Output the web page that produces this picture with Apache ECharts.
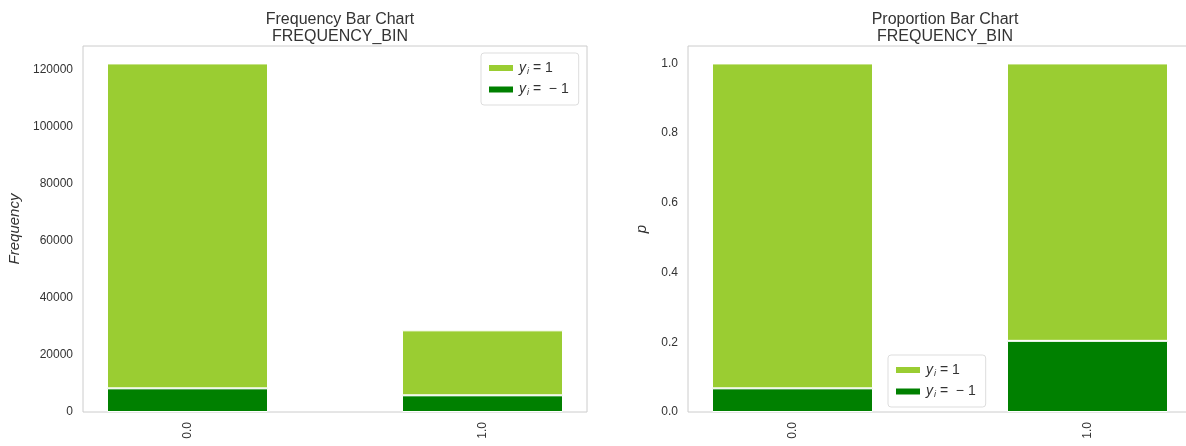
<!DOCTYPE html>
<html>
<head>
<meta charset="utf-8">
<script src="https://cdn.jsdelivr.net/npm/echarts@6/dist/echarts.min.js"></script>
<style>html,body{margin:0;padding:0;background:#fff;overflow:hidden;width:1186px;height:446px}#c{width:1240px;height:446px}</style>
</head>
<body>
<div id="c"></div>
<script>
// ---- data ----
const categories = ['0.0', '1.0'];
const countPos = [114050, 22810];   // y_i = 1
const countNeg = [8300, 5850];      // y_i = -1
const seriesNames = ['y=1', 'y=-1'];
const titlesLeft = 'Frequency Bar Chart\nFREQUENCY_BIN';
const titlesRight = 'Proportion Bar Chart\nFREQUENCY_BIN';

const totals = countPos.map((v, i) => v + countNeg[i]);
const propPos = countPos.map((v, i) => v / totals[i]);
const propNeg = countNeg.map((v, i) => v / totals[i]);

const LIGHT = '#9ACD32', DARK = '#008000';
const TXT = '#333333', EDGE = '#cccccc';
const FONT = '"Liberation Sans", Arial, sans-serif';

const chart = echarts.init(document.getElementById('c'), null, {renderer: 'canvas'});

const TOP = 46, H = 366;
const leftMax = Math.max(...totals) * 1.05;

function legendDef(left, top) {
  return {
    orient: 'vertical', left: left, top: top, data: seriesNames,
    icon: 'rect', itemWidth: 26, itemHeight: 8, itemGap: 7,
    padding: [8, 10, 8, 6], borderColor: '#dddddd', borderWidth: 1, borderRadius: 3,
    backgroundColor: '#fff', selectedMode: false,
    formatter: n => n === 'y=1' ? '{y|y}{s|i}{t| = 1}' : '{y|y}{s|i}{t| =  − 1}',
    textStyle: {
      color: TXT, fontFamily: FONT, fontSize: 13,
      rich: {
        y: {fontStyle: 'italic', fontSize: 14, color: TXT, fontFamily: FONT},
        s: {fontStyle: 'italic', fontSize: 9, color: TXT, fontFamily: FONT, verticalAlign: 'bottom', padding: [6, 0, 0, 1]},
        t: {fontSize: 14, color: TXT, fontFamily: FONT}
      }
    }
  };
}
function hiddenX(gi) {
  return {type: 'value', gridIndex: gi, show: false, min: 0, max: 1};
}
function catX(gi) {
  return {
    type: 'category', gridIndex: gi, data: categories, boundaryGap: true,
    axisTick: {show: false}, axisLine: {show: false}, splitLine: {show: false},
    axisLabel: {rotate: 90, margin: 10, fontSize: 12, color: TXT, fontFamily: FONT}
  };
}
function hiddenY(gi, max) {
  return {type: 'value', gridIndex: gi, show: false, min: 0, max: max, splitLine: {show: false}};
}
function bar(name, stack, axis, data, color) {
  return {type: 'bar', name: name, stack: stack, xAxisIndex: axis, yAxisIndex: axis, data: data,
    barWidth: 161, itemStyle: {color: color, borderColor: '#ffffff', borderWidth: 1},
    emphasis: {disabled: true}};
}

chart.setOption({
  animation: false,
  textStyle: {fontFamily: FONT},
  title: [
    {text: titlesLeft, left: 335, top: 6, textAlign: 'center',
      textStyle: {fontSize: 16, fontWeight: 'normal', color: TXT, lineHeight: 17, fontFamily: FONT}},
    {text: titlesRight, left: 940, top: 6, textAlign: 'center',
      textStyle: {fontSize: 16, fontWeight: 'normal', color: TXT, lineHeight: 17, fontFamily: FONT}}
  ],
  grid: [
    {left: 83, top: TOP, width: 504, height: H, show: true, borderColor: EDGE, borderWidth: 1, backgroundColor: 'transparent'},
    {left: 40, top: TOP, width: 590, height: H},
    {left: 688, top: TOP, width: 504, height: H, show: true, borderColor: EDGE, borderWidth: 1, backgroundColor: 'transparent'},
    {left: 645, top: TOP, width: 590, height: H}
  ],
  xAxis: [hiddenX(0), catX(1), hiddenX(2), catX(3)],
  yAxis: [
    {type: 'value', gridIndex: 0, min: 0, max: leftMax, interval: 20000,
      splitLine: {show: false}, axisTick: {show: false}, axisLine: {show: false},
      axisLabel: {showMaxLabel: false, margin: 10, fontSize: 12, color: TXT, fontFamily: FONT,
        formatter: v => String(v)},
      name: 'Frequency', nameLocation: 'middle', nameRotate: 90, nameGap: 61,
      nameTextStyle: {fontStyle: 'italic', fontSize: 15, color: TXT, fontFamily: FONT}},
    hiddenY(1, leftMax),
    {type: 'value', gridIndex: 2, min: 0, max: 1.05, interval: 0.2,
      splitLine: {show: false}, axisTick: {show: false}, axisLine: {show: false},
      axisLabel: {showMaxLabel: false, margin: 10, fontSize: 12, color: TXT, fontFamily: FONT,
        formatter: v => v.toFixed(1)},
      name: 'p', nameLocation: 'middle', nameRotate: 90, nameGap: 39,
      nameTextStyle: {fontStyle: 'italic', fontSize: 15, color: TXT, fontFamily: FONT}},
    hiddenY(3, 1.05)
  ],
  legend: [legendDef(481, 53), legendDef(888, 355)],
  series: [
    bar('y=-1', 'a', 1, countNeg, DARK),
    bar('y=1', 'a', 1, countPos, LIGHT),
    bar('y=-1', 'b', 3, propNeg, DARK),
    bar('y=1', 'b', 3, propPos, LIGHT)
  ]
});
</script>
</body>
</html>
